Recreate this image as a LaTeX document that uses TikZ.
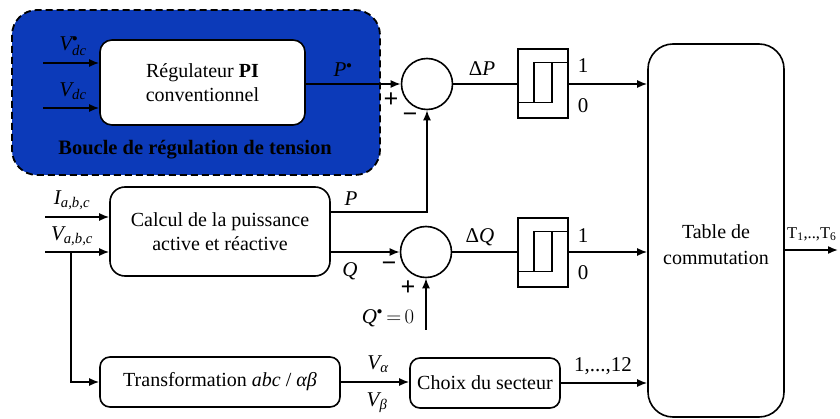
\documentclass[tikz,border=0pt]{standalone}
\usepackage{amsmath}
\usepackage{fontspec}
\setmainfont{Liberation Serif}
\usetikzlibrary{arrows.meta,calc}
\definecolor{boxblue}{RGB}{12,58,185}
\tikzset{
  blk/.style={draw,line width=1.6pt,rounded corners=12pt,fill=white,align=center,inner sep=0pt,font=\fontsize{20}{24}\selectfont},
  sumc/.style={draw,circle,line width=1.6pt,minimum size=51pt,inner sep=0pt},
  hystbox/.style={draw,line width=1.6pt,minimum width=50pt,minimum height=69pt,inner sep=0pt},
  conn/.style={line width=1.6pt},
  arr/.style={line width=1.6pt,-{Latex[length=10pt,width=8pt]}},
  lbl/.style={font=\fontsize{21}{23}\selectfont,inner sep=0pt},
  sgn/.style={font=\fontsize{26}{26}\selectfont\bfseries,inner sep=0pt}
}
\newcommand{\hystdraw}[1]{%
  \draw[line width=1.4pt] ($(#1.center)+(-25,19)$) -- ($(#1.center)+(9,19)$) -- ($(#1.center)+(9,-21)$);
  \draw[line width=1.4pt] ($(#1.center)+(-9,19)$) -- ($(#1.center)+(-9,-21)$) -- ($(#1.center)+(25,-21)$);}
\newcommand{\sdot}{{\scriptscriptstyle\bullet}}
\begin{document}
\begin{tikzpicture}[x=1pt,y=-1pt]
\useasboundingbox (0,0) rectangle (840,419);
% blue dashed group
\draw[fill=boxblue,line width=1.8pt,dash pattern=on 7pt off 4pt,rounded corners=25pt] (12,10) rectangle (380,175);
\node[font=\fontsize{20.5}{22}\selectfont\bfseries,inner sep=0pt] (boucle) at (195,150) {Boucle de régulation de tension};
% blocks
\node[blk,minimum width=205pt,minimum height=85pt] (pi) at (202.5,82.5) {Régulateur \textbf{PI}\\conventionnel};
\node[blk,minimum width=220pt,minimum height=89pt,rounded corners=15pt] (calc) at (220,231.5) {Calcul de la puissance\\active et réactive};
\node[blk,minimum width=240pt,minimum height=50pt,rounded corners=10pt] (trans) at (220,382) {Transformation \textit{abc} / \textit{αβ}};
\node[blk,minimum width=150pt,minimum height=50pt,rounded corners=10pt] (choix) at (485,383) {Choix du secteur};
\node[blk,minimum width=136pt,minimum height=373pt,rounded corners=25pt] (table) at (716,230.5) {};
\node[lbl,align=center,font=\fontsize{20}{26}\selectfont] (tabtxt) at (716,245) {Table de\\commutation};
% sums
\node[sumc] (s1) at (427,84) {};
\node[sumc] (s2) at (426,252) {};
% hysteresis
\node[hystbox] (h1) at (543,83.5) {};
\node[hystbox] (h2) at (543,252.5) {};
\hystdraw{h1}
\hystdraw{h2}
% input coordinates
\coordinate (vdcs) at (43,63);
\coordinate (vdc) at (43,108);
\coordinate (iabc) at (45,217);
\coordinate (vabc) at (45,252);
\coordinate (qref) at (426,330);
\coordinate (tout) at (838,250);
% connectors
\draw[arr] (vdcs) -- (vdcs -| pi.west);
\draw[arr] (vdc) -- (vdc -| pi.west);
\draw[arr] (iabc) -- (iabc -| calc.west);
\draw[arr] (vabc) -- (vabc -| calc.west);
\draw[arr] (pi.east |- s1.west) -- (s1.west);
\draw[arr] (calc.east |- 0,212) -| (s1.south);
\draw[arr] (calc.east |- s2.west) -- (s2.west);
\draw[arr] (qref) -- (s2.south);
\draw[conn] (s1.east) -- (s1.east -| h1.west);
\draw[conn] (s2.east) -- (s2.east -| h2.west);
\draw[arr] (h1.east |- s1.east) -- (h1.east |- s1.east -| table.west);
\draw[arr] (h2.east |- s2.east) -- (h2.east |- s2.east -| table.west);
\draw[arr] (71,252) |- (trans.west);
\draw[arr] (trans.east) -- (trans.east -| choix.west);
\draw[arr] (choix.east) -- (choix.east -| table.west);
\draw[arr] (table.east |- tout) -- (tout);
% labels
\node[lbl] (lvdcs) at (73,46) {$\textit{V}^{\sdot}_{\textit{dc}}$};
\node[lbl] (lvdc) at (73,91) {$\textit{V}_{\textit{dc}}$};
\node[lbl] (lps) at (343,70) {$\textit{P}^{\sdot}$};
\node[lbl] (liabc) at (72,200) {$\textit{I}_{\textit{a,b,c}}$};
\node[lbl] (lvabc) at (72,236) {$\textit{V}_{\textit{a,b,c}}$};
\node[lbl] (lp) at (351,199) {\textit{P}};
\node[lbl] (lq) at (350,271) {\textit{Q}};
\node[lbl] (lqs) at (388,318) {$\textit{Q}^{\sdot}\,{=}\,0$};
\node[lbl] (ldp) at (482,69) {Δ\textit{P}};
\node[lbl] (ldq) at (480,237) {Δ\textit{Q}};
\node[lbl] (l11) at (583,66) {1};
\node[lbl] (l10) at (583,106) {0};
\node[lbl] (l21) at (583,236) {1};
\node[lbl] (l20) at (583,273) {0};
\node[lbl] (lva) at (378,364) {$\textit{V}_{\textit{α}}$};
\node[lbl] (lvb) at (377,403) {$\textit{V}_{\textit{β}}$};
\node[lbl] (l12) at (603,366) {1,...,12};
\node[lbl,anchor=west,font=\fontsize{16.5}{19}\selectfont] (lt) at (787,234) {T\textsubscript{1},..,T\textsubscript{6}};
% signs
\node[sgn] (p1) at (391,100) {+};
\node[sgn] (m1) at (410,118) {−};
\node[sgn] (m2) at (389,267) {−};
\node[sgn] (p2) at (408,288) {+};
\end{tikzpicture}
\end{document}
